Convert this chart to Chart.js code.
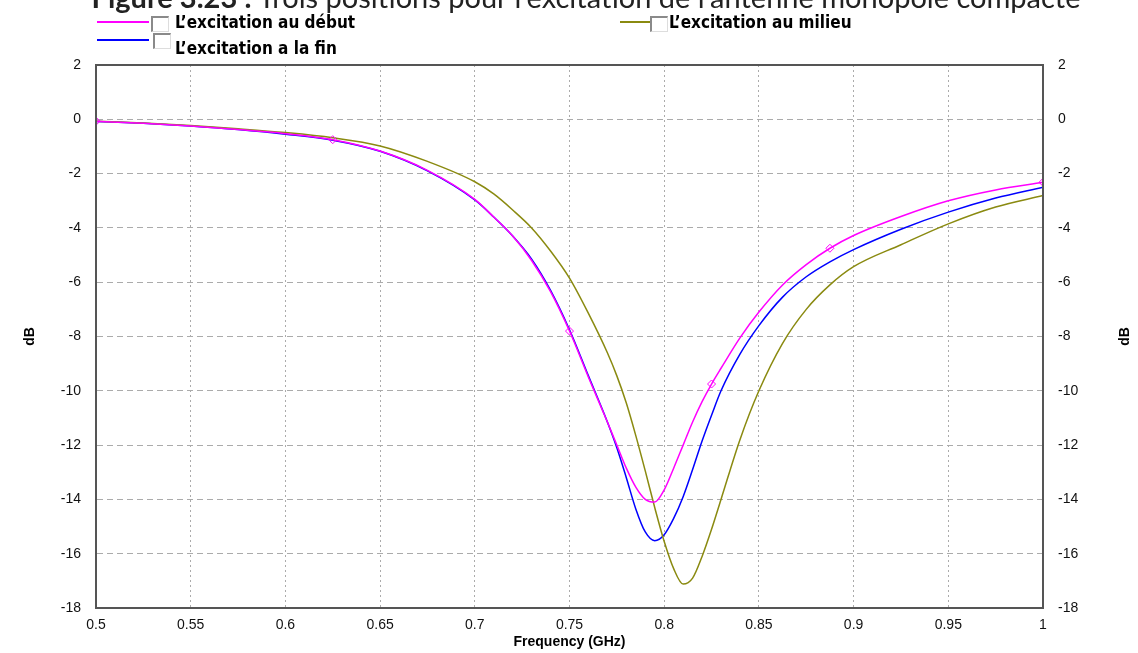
<!DOCTYPE html>
<html>
<head>
<meta charset="utf-8">
<script src="https://cdn.jsdelivr.net/npm/chart.js@4"></script>
<style>
  html, body { margin: 0; padding: 0; background: #fff; }
  #wrap { position: relative; width: 1138px; height: 653px; overflow: hidden; }
  #chart { position: absolute; left: 0; top: 0; }
  .caption { position: absolute; top: -18px; left: 586px; transform: translateX(-50%); white-space: nowrap;
    font-family: Lato, "Open Sans", sans-serif; font-size: 29px; line-height: 30px; color: #222; }
  .item { position: absolute; height: 18px; font-family: "Liberation Sans Narrow", "DejaVu Sans Condensed", sans-serif;
    font-weight: bold; font-size: 17px; color: #000; white-space: nowrap; }
  .item .ln { position: absolute; height: 2px; }
  .item .box { position: absolute; width: 15px; height: 13px; background: #fff;
    border-top: 2px solid #8a8a8a; border-left: 2px solid #8a8a8a; border-right: 1px solid #ddd; border-bottom: 1px solid #ddd; }
  .item .txt { position: absolute; }
</style>
</head>
<body>
<div id="wrap">
  <canvas id="chart" width="1138" height="653"></canvas>
  <div class="caption"><b>Figure 3.23 :</b> Trois positions pour l’excitation de l’antenne monopole compacte</div>
  <div class="item" style="left:97px; top:13px;">
    <span class="ln" style="left:0; top:8px; width:52px; background:#ff00ff;"></span>
    <span class="box" style="left:54px; top:3px;"></span>
    <span class="txt" style="left:78px; top:-1px;">L’excitation au début</span>
  </div>
  <div class="item" style="left:620px; top:13px;">
    <span class="ln" style="left:0; top:8px; width:30px; background:#8a8a10;"></span>
    <span class="box" style="left:30px; top:3px;"></span>
    <span class="txt" style="left:49px; top:-1px;">L’excitation au milieu</span>
  </div>
  <div class="item" style="left:97px; top:31px;">
    <span class="ln" style="left:0; top:8px; width:52px; background:#0000ff;"></span>
    <span class="box" style="left:56px; top:2px;"></span>
    <span class="txt" style="left:78px; top:7px;">L’excitation a la fin</span>
  </div>
</div>
<script>
// fréquences (GHz)
const freq = [0.5, 0.525, 0.55, 0.575, 0.6, 0.625, 0.65, 0.675, 0.7, 0.71, 0.72, 0.73, 0.74, 0.75,
  0.76, 0.77, 0.775, 0.78, 0.785, 0.79, 0.795, 0.8, 0.805, 0.81, 0.815, 0.82, 0.825, 0.83, 0.84,
  0.85, 0.8625, 0.875, 0.8875, 0.9, 0.925, 0.95, 0.975, 1.0];

// S11 (dB)
const debut = [-0.07, -0.15, -0.25, -0.38, -0.53, -0.75, -1.17, -1.88, -2.95, -3.6, -4.3, -5.2, -6.35, -7.8,
  -9.5, -11.15, -12.0, -12.85, -13.55, -14.0, -14.1, -13.65, -12.85, -12.0, -11.15, -10.4, -9.75, -9.17, -8.05,
  -7.1, -6.1, -5.35, -4.75, -4.28, -3.58, -3.0, -2.6, -2.32];
const milieu = [-0.07, -0.14, -0.23, -0.35, -0.49, -0.68, -0.98, -1.55, -2.3, -2.75, -3.34, -4.0, -4.85, -5.85,
  -7.15, -8.6, -9.45, -10.45, -11.65, -12.95, -14.3, -15.55, -16.55, -17.12, -16.9, -16.1, -15.1, -14.0, -11.8,
  -10.0, -8.25, -7.0, -6.1, -5.43, -4.62, -3.85, -3.23, -2.81];
const fin = [-0.08, -0.15, -0.25, -0.38, -0.55, -0.77, -1.18, -1.9, -2.97, -3.6, -4.3, -5.15, -6.3, -7.75,
  -9.45, -11.15, -12.1, -13.2, -14.35, -15.2, -15.52, -15.3, -14.7, -13.9, -12.9, -11.85, -10.9, -10.0, -8.65,
  -7.6, -6.55, -5.8, -5.25, -4.8, -4.05, -3.42, -2.9, -2.5];

// marqueurs sur la courbe « début »
const markerFreq = [0.5, 0.625, 0.75, 0.825, 0.8875, 1.0];

const xTicks = [0.5, 0.55, 0.6, 0.65, 0.7, 0.75, 0.8, 0.85, 0.9, 0.95, 1];
const yTicks = [2, 0, -2, -4, -6, -8, -10, -12, -14, -16, -18];

const pts = arr => freq.map((f, i) => ({ x: f, y: arr[i] }));
const tickFont = { family: "'Liberation Sans', Arial, sans-serif", size: 14 };
const titleFont = { family: "'Liberation Sans', Arial, sans-serif", size: 14, weight: 'bold' };

const yScale = (pos, fit) => ({
  position: pos,
  min: -18, max: 2,
  afterBuildTicks: s => { s.ticks = yTicks.map(v => ({ value: v })); },
  afterFit: s => { s.width = fit; },
  grid: pos === 'left'
    ? { color: '#ababab', lineWidth: 1, drawTicks: false }
    : { display: false, drawTicks: false },
  border: { display: true, color: '#555', width: 2, dash: [6, 4] },
  ticks: { font: tickFont, color: '#111', padding: 15 },
  title: { display: pos === 'left', text: 'dB', font: titleFont, color: '#000', padding: { top: 22, bottom: 0 } }
});

new Chart(document.getElementById('chart'), {
  type: 'line',
  data: {
    datasets: [
      {
        label: 'L’excitation au début', data: pts(debut), borderColor: '#ff00ff', borderWidth: 1.5,
        pointStyle: 'rectRot', backgroundColor: 'rgba(0,0,0,0)', pointBorderColor: '#ff00ff', pointBorderWidth: 1,
        pointRadius: ctx => markerFreq.includes(freq[ctx.dataIndex]) ? 4 : 0
      },
      { label: 'L’excitation au milieu', data: pts(milieu), borderColor: '#8a8a10', borderWidth: 1.5, pointRadius: 0 },
      { label: 'L’excitation a la fin', data: pts(fin), borderColor: '#0000ff', borderWidth: 1.5, pointRadius: 0 }
    ]
  },
  options: {
    responsive: false,
    animation: false,
    cubicInterpolationMode: 'monotone',
    layout: { padding: { top: 65, left: 0, right: 0, bottom: 0 } },
    plugins: { legend: { display: false }, tooltip: { enabled: false } },
    scales: {
      x: {
        type: 'linear', min: 0.5, max: 1,
        afterBuildTicks: s => { s.ticks = xTicks.map(v => ({ value: v })); },
        afterFit: s => { s.height = 45; },
        grid: { color: '#ababab', lineWidth: 1, drawTicks: false },
        border: { display: true, color: '#555', width: 2, dash: [2, 3] },
        ticks: { font: tickFont, color: '#111', padding: 9, maxRotation: 0, callback: v => String(v) },
        title: { display: true, text: 'Frequency (GHz)', font: titleFont, color: '#000', padding: { top: 0, bottom: 2 } }
      },
      y: yScale('left', 96),
      y2: yScale('right', 95)
    }
  },
  plugins: [{
    id: 'frame',
    afterDraw(chart) {
      const { ctx, chartArea: a } = chart;
      ctx.save();
      ctx.setLineDash([]);
      ctx.strokeStyle = '#555';
      ctx.lineWidth = 2;
      ctx.strokeRect(a.left, a.top, a.right - a.left, a.bottom - a.top);
      // titre de l'axe droit, même sens que celui de gauche
      ctx.translate(1125, (a.top + a.bottom) / 2);
      ctx.rotate(-Math.PI / 2);
      ctx.font = "bold 14px 'Liberation Sans', Arial, sans-serif";
      ctx.fillStyle = '#000';
      ctx.textAlign = 'center';
      ctx.textBaseline = 'middle';
      ctx.fillText('dB', 0, 0);
      ctx.restore();
    }
  }]
});
</script>
</body>
</html>
